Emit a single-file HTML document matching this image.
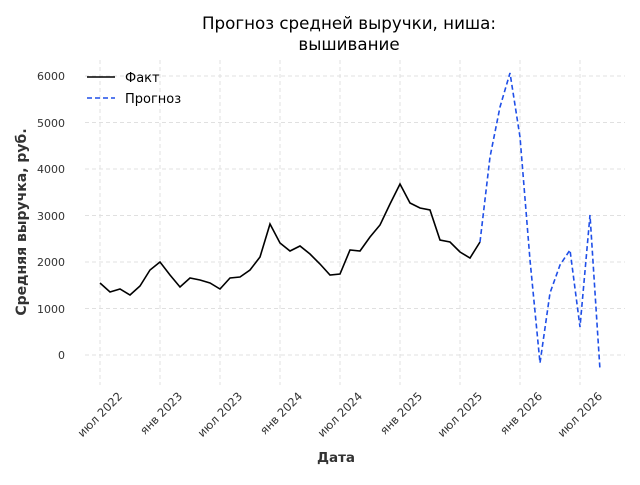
<!DOCTYPE html>
<html><head><meta charset="utf-8"><style>body{margin:0;background:#fff}</style></head><body>
<svg width="640" height="480" xmlns="http://www.w3.org/2000/svg" font-family="DejaVu Sans, Liberation Sans, sans-serif">
<g stroke="#e0e0e0" stroke-dasharray="4,3" stroke-width="1">
<line x1="85" x2="625" y1="355" y2="355"/><line x1="85" x2="625" y1="308.5" y2="308.5"/><line x1="85" x2="625" y1="262" y2="262"/><line x1="85" x2="625" y1="215.5" y2="215.5"/><line x1="85" x2="625" y1="169" y2="169"/><line x1="85" x2="625" y1="122.5" y2="122.5"/><line x1="85" x2="625" y1="76" y2="76"/>
<line x1="100" x2="100" y1="60" y2="385"/><line x1="160" x2="160" y1="60" y2="385"/><line x1="220" x2="220" y1="60" y2="385"/><line x1="280" x2="280" y1="60" y2="385"/><line x1="340" x2="340" y1="60" y2="385"/><line x1="400" x2="400" y1="60" y2="385"/><line x1="460" x2="460" y1="60" y2="385"/><line x1="520" x2="520" y1="60" y2="385"/><line x1="580" x2="580" y1="60" y2="385"/>
</g>
<g font-size="11" fill="#333" text-anchor="end">
<text x="65" y="359">0</text><text x="65" y="313">1000</text><text x="65" y="266">2000</text><text x="65" y="220">3000</text><text x="65" y="173">4000</text><text x="65" y="127">5000</text><text x="65" y="80">6000</text>
</g>
<g font-size="11.5" fill="#333" text-anchor="end">
<text transform="translate(123,397) rotate(-45)">июл 2022</text>
<text transform="translate(183,397) rotate(-45)">янв 2023</text>
<text transform="translate(243,397) rotate(-45)">июл 2023</text>
<text transform="translate(303,397) rotate(-45)">янв 2024</text>
<text transform="translate(363,397) rotate(-45)">июл 2024</text>
<text transform="translate(423,397) rotate(-45)">янв 2025</text>
<text transform="translate(483,397) rotate(-45)">июл 2025</text>
<text transform="translate(543,397) rotate(-45)">янв 2026</text>
<text transform="translate(603,397) rotate(-45)">июл 2026</text>
</g>
<text x="336" y="462" font-size="13.5" font-weight="bold" fill="#333" text-anchor="middle">Дата</text>
<text transform="translate(26,222) rotate(-90)" font-size="14" font-weight="bold" fill="#333" text-anchor="middle">Средняя выручка, руб.</text>
<text x="349" y="29" font-size="16.7" text-anchor="middle" fill="#000">Прогноз средней выручки, ниша:</text>
<text x="349" y="50" font-size="16.7" text-anchor="middle" fill="#000">вышивание</text>
<polyline fill="none" stroke="#000" stroke-width="1.6" points="100,283 110,292 120,289 130,295 140,286 150,270 160,262 170,275 180,287 190,278 200,280 210,283 220,289 230,278 240,277 250,270 260,257 270,224 280,243 290,251 300,246 310,254 320,264 330,275 340,274 350,250 360,251 370,237 380,225 390,204 400,184 410,203 420,208 430,210 440,240 450,242 460,252 470,258 480,242"/>
<polyline fill="none" stroke="#1f4fe8" stroke-width="1.6" stroke-dasharray="5,3" points="480,242 490,157 500,107 510,73 520,137 530,260 540,363 550,293 560,265 570,250 580,327 590,215 600,370"/>
<line x1="87" x2="115" y1="77" y2="77" stroke="#000" stroke-width="1.6"/>
<text x="125" y="82" font-size="13" fill="#000">Факт</text>
<line x1="87" x2="115" y1="98" y2="98" stroke="#1f4fe8" stroke-width="1.6" stroke-dasharray="5,3"/>
<text x="125" y="103" font-size="13" fill="#000">Прогноз</text>
</svg>
</body></html>
